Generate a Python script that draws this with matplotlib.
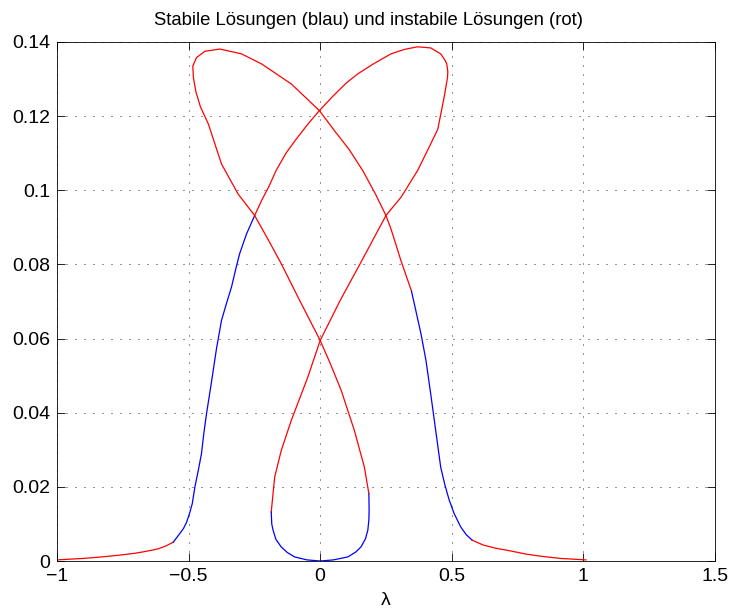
import numpy as np
from matplotlib import pyplot as plt

plt.rcParams['font.family'] = ['Liberation Sans', 'DejaVu Sans']

## Daten: Lambda und Amplitude, je Abschnitt mit Stabilitaet
# linker Ausläufer (instabil)
tail_left_x = [-1.0, -0.9, -0.83, -0.76, -0.703, -0.678, -0.64, -0.615, -0.585, -0.558]
tail_left_y = [0.0003, 0.0007, 0.0011, 0.0016, 0.0021, 0.0024, 0.0029, 0.0033, 0.0041, 0.0051]

# linker steiler Ast (stabil)
rise_left_x = [-0.558, -0.54, -0.52, -0.508, -0.497, -0.486, -0.476, -0.463, -0.451,
               -0.442, -0.432, -0.413, -0.394, -0.375, -0.356, -0.337, -0.320, -0.306,
               -0.280, -0.249]
rise_left_y = [0.0051, 0.0068, 0.0087, 0.0104, 0.0127, 0.0155, 0.020, 0.0245, 0.029,
               0.0345, 0.0397, 0.0483, 0.0573, 0.0649, 0.0695, 0.0739, 0.079, 0.0829,
               0.0882, 0.0932]

# rechte Schleife oben, durch die Mitte nach unten links (instabil)
loop_a_x = [-0.249, -0.223, -0.195, -0.167, -0.13, -0.091, -0.045, -0.003, 0.05, 0.10,
            0.143, 0.2, 0.269, 0.32, 0.37, 0.42, 0.458, 0.475, 0.481, 0.485, 0.484,
            0.471, 0.447, 0.42, 0.37, 0.307, 0.25, 0.219, 0.155, 0.076, 0.0, -0.047,
            -0.11, -0.148, -0.173, -0.186]
loop_a_y = [0.0932, 0.0972, 0.101, 0.1054, 0.110, 0.1138, 0.118, 0.1215, 0.1255, 0.129,
            0.1314, 0.134, 0.1368, 0.138, 0.1387, 0.1384, 0.1368, 0.135, 0.1341, 0.132,
            0.1305, 0.1251, 0.1165, 0.1125, 0.1053, 0.0981, 0.0932, 0.0891, 0.0806,
            0.0703, 0.0595, 0.0496, 0.0379, 0.0298, 0.0226, 0.0132]

# untere Schleife (stabil)
bottom_x = [-0.186, -0.184, -0.179, -0.168, -0.148, -0.125, -0.097, -0.05, 0.0, 0.05,
            0.105, 0.135, 0.155, 0.172, 0.181, 0.185, 0.186, 0.185]
bottom_y = [0.0132, 0.010, 0.0083, 0.0058, 0.0038, 0.0023, 0.0011, 0.0003, 0.0, 0.0003,
            0.0011, 0.0024, 0.0038, 0.006, 0.0083, 0.011, 0.0137, 0.0182]

# durch die Mitte, linke Schleife oben, nach rechts unten (instabil)
loop_b_x = [0.185, 0.168, 0.130, 0.080, 0.04, 0.0, -0.078, -0.148, -0.2, -0.249, -0.312,
            -0.375, -0.425, -0.455, -0.472, -0.482, -0.484, -0.47, -0.438, -0.381, -0.299,
            -0.223, -0.11, -0.003, 0.054, 0.110, 0.162, 0.21, 0.25, 0.269, 0.307, 0.347]
loop_b_y = [0.0182, 0.0253, 0.0352, 0.046, 0.053, 0.0595, 0.0703, 0.0802, 0.087, 0.0932,
            0.099, 0.1071, 0.1179, 0.1225, 0.1265, 0.1305, 0.1335, 0.1358, 0.1375, 0.1381,
            0.1368, 0.1341, 0.1287, 0.1215, 0.1161, 0.111, 0.1053, 0.099, 0.0932, 0.0896,
            0.081, 0.0728]

# rechter steiler Ast (stabil)
fall_right_x = [0.347, 0.383, 0.402, 0.420, 0.439, 0.458, 0.474, 0.490, 0.509, 0.534,
                0.555, 0.578]
fall_right_y = [0.0728, 0.0613, 0.0541, 0.0451, 0.0352, 0.0253, 0.0205, 0.0165, 0.0128,
                0.0092, 0.0071, 0.0056]

# rechter Ausläufer (instabil)
tail_right_x = [0.578, 0.62, 0.67, 0.711, 0.78, 0.837, 0.913, 1.01]
tail_right_y = [0.0056, 0.0043, 0.0034, 0.0029, 0.0019, 0.0013, 0.0007, 0.0003]

segments = [
    (tail_left_x, tail_left_y, 'r'),
    (rise_left_x, rise_left_y, 'b'),
    (loop_a_x, loop_a_y, 'r'),
    (bottom_x, bottom_y, 'b'),
    (loop_b_x, loop_b_y, 'r'),
    (fall_right_x, fall_right_y, 'b'),
    (tail_right_x, tail_right_y, 'r'),
]

x_ticks = [-1, -0.5, 0, 0.5, 1, 1.5]
x_labels = ['\u22121', '\u22120.5', '0', '0.5', '1', '1.5']
y_ticks = [0, 0.02, 0.04, 0.06, 0.08, 0.1, 0.12, 0.14]
y_labels = ['0', '0.02', '0.04', '0.06', '0.08', '0.1', '0.12', '0.14']

## Plot
fig = plt.figure(figsize=(7.31, 6.14), dpi=100)
ax = fig.add_axes([0.078, 0.0863, 0.9, 0.8453])

for xs, ys, c in segments:
    ax.plot(xs, ys, color=c, linewidth=0.9)

ax.set_xlim(-1, 1.5)
ax.set_ylim(0, 0.14)
ax.set_xticks(x_ticks)
ax.set_xticklabels(x_labels)
ax.set_yticks(y_ticks)
ax.set_yticklabels(y_labels)
ax.tick_params(direction='in', length=6, width=0.6, top=True, right=True,
               labelsize=14, pad=5)
ax.grid(True, linestyle=(0, (1.2, 9.6)), color='black', linewidth=0.6)
for s in ax.spines.values():
    s.set_linewidth(0.6)

ax.set_xlabel('λ', fontsize=14, labelpad=5)
ax.set_title('Stabile Lösungen (blau) und instabile Lösungen (rot)', fontsize=13.3,
             x=0.473, pad=12)

fig.savefig('out.png', dpi=100)
